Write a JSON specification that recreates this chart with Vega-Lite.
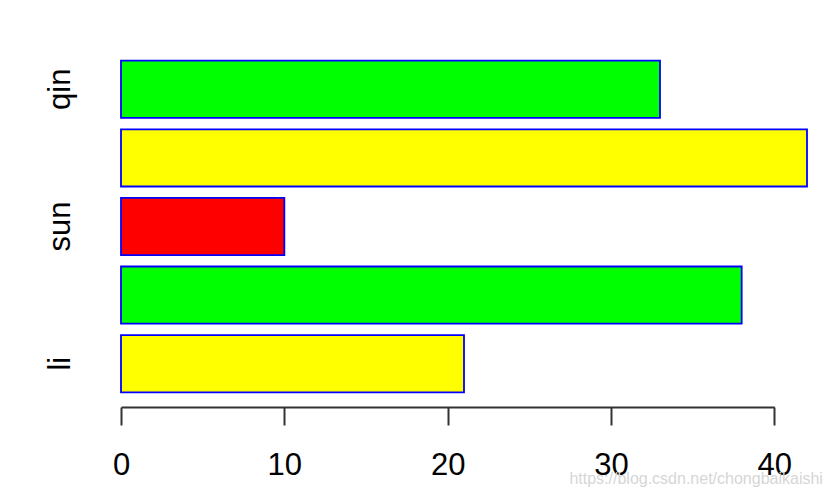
{
  "$schema": "https://vega.github.io/schema/vega-lite/v6.json",
  "autosize": "none",
  "width": 686,
  "height": 343,
  "padding": {"left": 121, "top": 55, "right": 24, "bottom": 99},
  "background": "white",
  "config": {"view": {"stroke": null}, "font": "Liberation Sans"},
  "title": {
    "text": "https://blog.csdn.net/chongbaikaishi",
    "orient": "bottom",
    "anchor": "end",
    "dx": 15,
    "offset": -9,
    "fontSize": 16,
    "fontWeight": "normal",
    "color": "#d6d6d6",
    "font": "Liberation Sans"
  },
  "data": {
    "values": [
      {"name": "li", "value": 21},
      {"name": "wang", "value": 38},
      {"name": "sun", "value": 10},
      {"name": "zhao", "value": 42},
      {"name": "qin", "value": 33}
    ]
  },
  "layer": [
    {
      "mark": {"type": "bar", "stroke": "#0000ff", "strokeWidth": 1.8},
      "encoding": {
        "y": {
          "field": "name",
          "type": "nominal",
          "sort": ["qin", "zhao", "sun", "wang", "li"],
          "scale": {"paddingInner": 0.1667, "paddingOuter": 0.0833},
          "axis": {
            "title": null,
            "domain": false,
            "ticks": false,
            "labelAngle": -90,
            "labelAlign": "center",
            "labelBaseline": "alphabetic",
            "labelPadding": 52,
            "labelFontSize": 31,
            "labelColor": "#000000",
            "labelFont": "Liberation Sans",
            "labelExpr": "indexof(['li','sun','qin'], datum.value) >= 0 ? datum.value : ''"
          }
        },
        "x": {
          "field": "value",
          "type": "quantitative",
          "scale": {"domain": [0, 42], "nice": false, "zero": true},
          "axis": null
        },
        "color": {
          "field": "name",
          "type": "nominal",
          "scale": {
            "domain": ["li", "wang", "sun", "zhao", "qin"],
            "range": ["#ffff00", "#00ff00", "#ff0000", "#ffff00", "#00ff00"]
          },
          "legend": null
        }
      }
    },
    {
      "mark": {"type": "rule", "opacity": 0},
      "encoding": {
        "x": {
          "datum": 0,
          "type": "quantitative",
          "scale": {"domain": [0, 40], "range": [0, 653.3], "nice": false},
          "axis": {
            "title": null,
            "values": [0, 10, 20, 30, 40],
            "offset": 9,
            "grid": false,
            "domainColor": "#333333",
            "domainWidth": 2,
            "tickColor": "#333333",
            "tickWidth": 2,
            "tickSize": 18,
            "labelPadding": 25,
            "labelFontSize": 31,
            "labelColor": "#000000",
            "labelFont": "Liberation Sans",
            "labelBaseline": "top",
            "labelFlush": false,
            "labelOverlap": false
          }
        }
      }
    }
  ],
  "resolve": {"scale": {"x": "independent"}, "axis": {"x": "independent"}}
}
